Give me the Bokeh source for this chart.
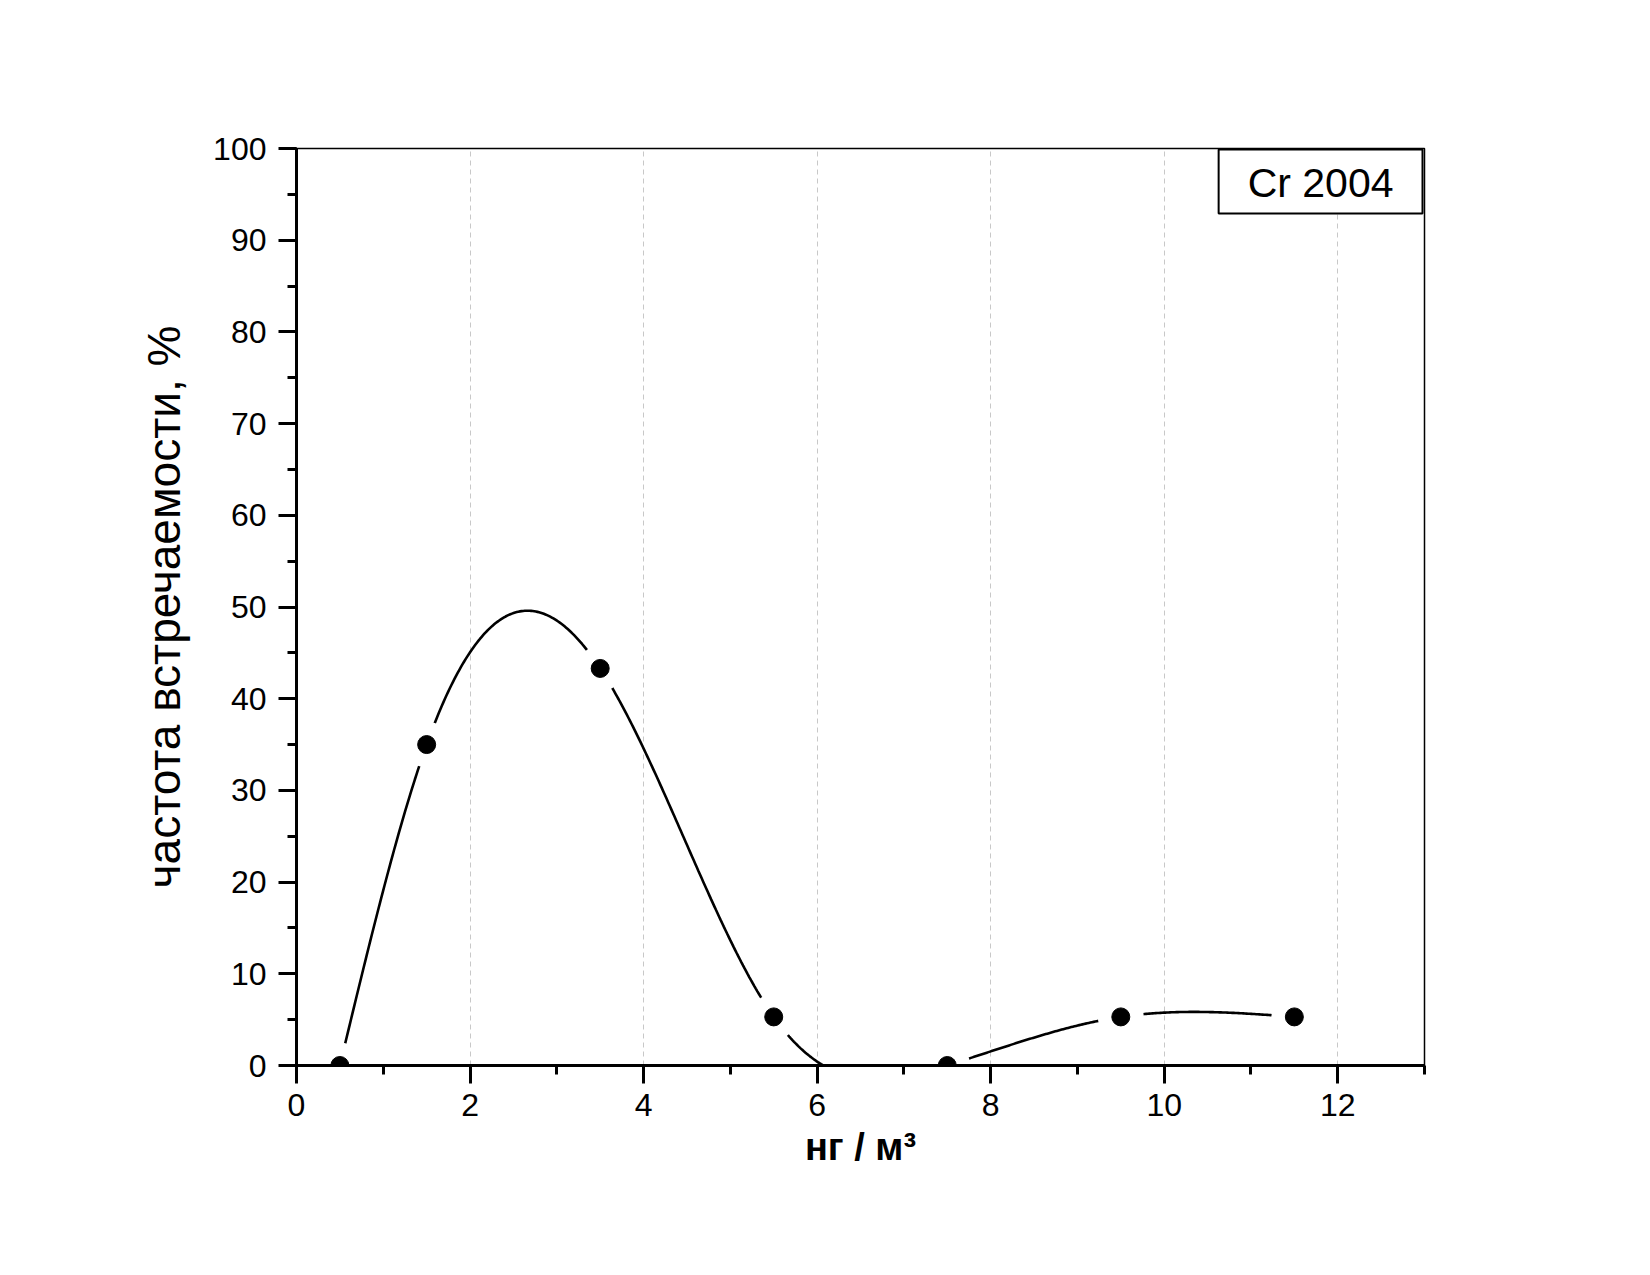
import numpy as np
from bokeh.plotting import figure
from bokeh.models import Range1d, SingleIntervalTicker, Label, ColumnDataSource
from bokeh.embed import file_html
from bokeh.resources import INLINE

# ---- data ----
conc = [0.5, 1.5, 3.5, 5.5, 7.5, 9.5, 11.5]          # нг / м3 (bin centres)
freq = [0.0, 35.0, 43.3, 5.3, 0.0, 5.3, 5.3]          # частота встречаемости, %
series_name = "Cr 2004"
x_label = "нг / м³"
y_label = "частота встречаемости, %"


def natural_spline(xs, ys, n=600):
    xs = np.asarray(xs, float)
    ys = np.asarray(ys, float)
    k = len(xs)
    h = np.diff(xs)
    A = np.zeros((k, k))
    b = np.zeros(k)
    A[0, 0] = 1.0
    A[-1, -1] = 1.0
    for i in range(1, k - 1):
        A[i, i - 1] = h[i - 1]
        A[i, i] = 2 * (h[i - 1] + h[i])
        A[i, i + 1] = h[i]
        b[i] = 6 * ((ys[i + 1] - ys[i]) / h[i] - (ys[i] - ys[i - 1]) / h[i - 1])
    M = np.linalg.solve(A, b)
    xx = np.linspace(xs[0], xs[-1], n)
    yy = np.empty_like(xx)
    for j, x in enumerate(xx):
        i = min(np.searchsorted(xs, x, side="right") - 1, k - 2)
        hi = h[i]
        a = (xs[i + 1] - x) / hi
        c = (x - xs[i]) / hi
        yy[j] = (a * ys[i] + c * ys[i + 1]
                 + ((a ** 3 - a) * M[i] + (c ** 3 - c) * M[i + 1]) * hi * hi / 6.0)
    return xx, yy


sx, sy = natural_spline(conc, freq)

FONT = "Liberation Sans"

p = figure(width=1620, height=1250, output_backend="svg", toolbar_location=None,
           x_range=Range1d(0, 13), y_range=Range1d(0, 100),
           min_border_left=296, min_border_top=148, min_border_right=196, min_border_bottom=185)
p.background_fill_color = "white"
p.border_fill_color = "white"
p.outline_line_color = "black"
p.outline_line_width = 1.5

p.xaxis.ticker = SingleIntervalTicker(interval=2, num_minor_ticks=2)
p.yaxis.ticker = SingleIntervalTicker(interval=10, num_minor_ticks=2)
for ax in (p.xaxis, p.yaxis):
    ax.axis_line_width = 3
    ax.axis_line_color = "black"
    ax.major_tick_line_width = 3
    ax.minor_tick_line_width = 3
    ax.major_tick_line_color = "black"
    ax.minor_tick_line_color = "black"
    ax.major_tick_in = 0
    ax.major_tick_out = 18
    ax.minor_tick_in = 0
    ax.minor_tick_out = 9
    ax.major_label_text_font = FONT
    ax.major_label_text_font_size = "32px"
    ax.major_label_text_color = "black"
p.yaxis.major_label_standoff = 12
p.xaxis.major_label_standoff = 10

p.yaxis.axis_label = y_label
p.yaxis.axis_label_text_font = FONT
p.yaxis.axis_label_text_font_size = "46px"
p.yaxis.axis_label_text_font_style = "normal"
p.yaxis.axis_label_text_color = "black"
p.yaxis.axis_label_standoff = 20

p.xaxis.axis_label = x_label
p.xaxis.axis_label_text_font = FONT
p.xaxis.axis_label_text_font_size = "38px"
p.xaxis.axis_label_text_font_style = "bold"
p.xaxis.axis_label_text_color = "black"
p.xaxis.axis_label_standoff = 7

p.xgrid.ticker = SingleIntervalTicker(interval=2)
p.xgrid.grid_line_color = "#c8c8c8"
p.xgrid.grid_line_width = 1
p.xgrid.grid_line_dash = "5 4"
p.ygrid.grid_line_color = None

src = ColumnDataSource(dict(x=conc, y=freq))
p.line(sx, sy, line_color="black", line_width=2.6)
p.scatter("x", "y", source=src, size=46, marker="circle", fill_color="white", line_color=None)
p.scatter("x", "y", source=src, size=18, marker="circle", fill_color="black", line_color="black")

# legend-like box
p.add_layout(Label(x=13, y=100, x_offset=-2, y_offset=-1, text=series_name, text_font=FONT,
                   text_font_size="41px", text_color="black",
                   text_align="right", text_baseline="top",
                   border_line_color="black", border_line_width=2,
                   background_fill_color="white",
                   padding=dict(left=29, right=29, top=10, bottom=8)))

open("out.html", "w").write(file_html(p, INLINE))
